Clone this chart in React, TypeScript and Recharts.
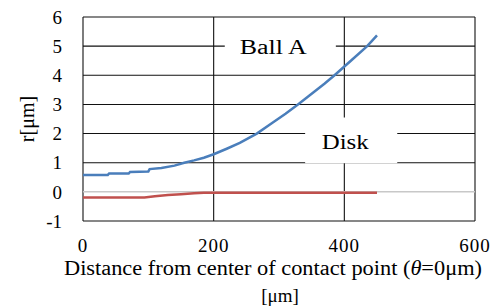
import { LineChart, Line, XAxis, YAxis, CartesianGrid, ReferenceLine, ReferenceArea } from 'recharts'

const xTicks = [0, 200, 400, 600]
const yTicks = [-1, 0, 1, 2, 3, 4, 5, 6]
const gridY = [-1, 1, 2, 3, 4, 5, 6]

// Ball A profile
const ballX = [0, 38, 40, 70, 72, 100, 102, 120, 140, 155, 170, 185, 200, 220, 240, 266, 290, 310, 329, 350, 370, 385, 410, 435, 450]
const ballR = [0.58, 0.58, 0.63, 0.63, 0.68, 0.7, 0.78, 0.82, 0.9, 1.0, 1.08, 1.17, 1.29, 1.48, 1.68, 2.0, 2.37, 2.68, 3.0, 3.37, 3.72, 4.0, 4.5, 5.0, 5.37]

// Disk profile
const diskX = [0, 94, 110, 130, 150, 170, 185, 450]
const diskR = [-0.19, -0.19, -0.15, -0.11, -0.08, -0.05, -0.03, -0.03]

const ballData = ballX.map((x, i) => ({ x, r: ballR[i] }))
const diskData = diskX.map((x, i) => ({ x, r: diskR[i] }))

const serif = 'Liberation Serif, DejaVu Serif, serif'

function XLabel({ viewBox }: any) {
  const cx = viewBox.x + viewBox.width / 2
  return (
    <g style={{ fontFamily: serif }} fill="#000">
      <text x={cx - 6} y={viewBox.y + 54} fontSize={20} textAnchor="middle" textLength={418} lengthAdjust="spacingAndGlyphs" style={{ fontFamily: serif }}>
        Distance from  center of contact point (<tspan fontStyle="italic">θ</tspan>=0μm)
      </text>
      <text x={cx + 1} y={viewBox.y + 81} fontSize={19} textAnchor="middle" style={{ fontFamily: serif }}>
        [μm]
      </text>
    </g>
  )
}

function YLabel({ viewBox }: any) {
  const cy = viewBox.y + viewBox.height / 2
  const x = viewBox.x + 27
  return (
    <text x={x} y={cy} transform={`rotate(-90 ${x} ${cy})`} textAnchor="middle" dominantBaseline="central" style={{ fontFamily: serif }} fontSize={20} fill="#000">
      r[μm]
    </text>
  )
}

function boxLabel(text: string, dx: number, dy: number, len: number) {
  return ({ viewBox }: any) => (
    <text
      x={viewBox.x + viewBox.width / 2 + dx}
      y={viewBox.y + viewBox.height / 2 + dy}
      textAnchor="middle"
      dominantBaseline="central"
      style={{ fontFamily: serif }}
      fontSize={20}
      fill="#000"
      textLength={len}
      lengthAdjust="spacingAndGlyphs"
    >
      {text}
    </text>
  )
}

export default function App() {
  return (
    <div style={{ position: 'absolute', left: 0, top: 0, width: 492, height: 308, background: '#fff', fontFamily: serif }}>
      <LineChart width={492} height={308} margin={{ top: 17, right: 17, bottom: 0, left: 0 }} style={{ fontFamily: serif }}>
        <CartesianGrid stroke="#111" strokeWidth={1.1} horizontalValues={gridY} verticalValues={xTicks} />
        <XAxis
          type="number"
          dataKey="x"
          domain={[0, 600]}
          ticks={xTicks}
          height={87}
          axisLine={false}
          tickLine={false}
          tickMargin={12}
          tick={{ fill: '#000', fontSize: 19, fontFamily: serif, letterSpacing: 1 }}
          label={<XLabel />}
        />
        <YAxis
          type="number"
          domain={[-1, 6]}
          ticks={yTicks}
          width={83}
          axisLine={false}
          tickLine={false}
          tickMargin={15}
          tick={{ fill: '#000', fontSize: 19, fontFamily: serif }}
          label={<YLabel />}
        />
        <ReferenceLine y={0} stroke="#c8c8c8" strokeWidth={1.5} />
        <ReferenceArea x1={217} x2={387} y1={4.3} y2={5.7} fill="#fff" fillOpacity={1} stroke="none" label={boxLabel('Ball A', -7, 1, 67)} />
        <ReferenceArea x1={340} x2={481} y1={0.98} y2={2.55} fill="#fff" fillOpacity={1} stroke="none" label={boxLabel('Disk', -6, 2, 47)} />
        <Line data={diskData} dataKey="r" type="linear" stroke="#c0504d" strokeWidth={2.5} dot={false} isAnimationActive={false} />
        <Line data={ballData} dataKey="r" type="linear" stroke="#4a7ebb" strokeWidth={2.5} dot={false} isAnimationActive={false} />
      </LineChart>
    </div>
  )
}
